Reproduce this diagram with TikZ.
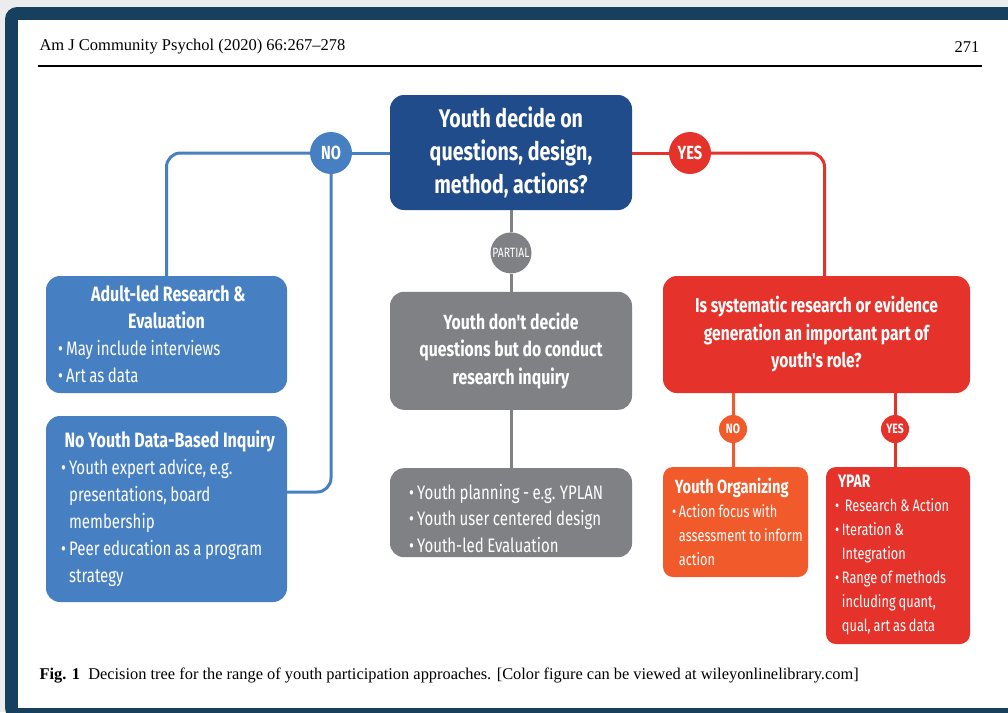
\documentclass[tikz,border=0pt]{standalone}
\usepackage{fontspec}
\setmainfont{Liberation Serif}
\newfontfamily\cond{Fira Sans}[FakeStretch=0.77]
\usetikzlibrary{positioning}

\definecolor{frameblue}{HTML}{17405F}
\definecolor{darkblue}{HTML}{214C8C}
\definecolor{midblue}{HTML}{4780C2}
\definecolor{greybox}{HTML}{808184}
\definecolor{redbox}{HTML}{E5322A}
\definecolor{orangebox}{HTML}{F15B2B}

\hyphenpenalty=10000
\exhyphenpenalty=10000
% size, leading, and narrower word spaces for the condensed face
\newcommand{\fsz}[2]{\fontsize{#1}{#2}\selectfont\spaceskip=.18em plus .05em\xspaceskip=.22em\relax}
\newcommand{\bul}[1]{\par\noindent\setbox0\hbox{\textbullet\,}\hangindent=\wd0 \hangafter=1 \box0 #1}
% left margin inside a box; lines may run past the right edge instead of wrapping
\newcommand{\marg}[1]{\leftskip=#1\rightskip=-30pt plus 1fil\spaceskip=.18em plus .05em\xspaceskip=.22em\relax}

\begin{document}
\begin{tikzpicture}[x=1pt,y=-1pt,
    box/.style={rounded corners=14pt,text=white,inner sep=0pt,font=\cond},
    dec/.style={circle,text=white,inner sep=0pt,font=\cond\bfseries},
    link/.style={line width=3pt}]

                \useasboundingbox (0,0) rectangle (1008,712);

                % page frame
                \fill[gray!15] (0,0) rectangle (1008,712);
                \fill[frameblue,rounded corners=12pt] (5,7) -- (1020,7) -- (1020,720) -- (5,720) -- cycle;
                \fill[white] (18,20) rectangle (1008,708);

                % running head and caption
                \node[anchor=west,font=\fontsize{16.5}{18}\selectfont] (head) at (36,47) {Am J Community Psychol (2020) 66:267--278};
                \node[anchor=east,font=\fontsize{16.5}{18}\selectfont] (page) at (983,47) {271};
                \draw[line width=2pt] (38,66) -- (982,66);
                \node[anchor=west,font=\fontsize{16.4}{18}\selectfont] (cap) at (36,676)
                    {\textbf{Fig. 1}\enspace Decision tree for the range of youth participation approaches. [Color figure can be viewed at wileyonlinelibrary.com]};

                % boxes
                \node[box,fill=darkblue,minimum width=242pt,minimum height=115pt,align=center,
                      font=\cond\bfseries\fsz{25.5}{33}] (q) at (511,152.5)
                    {Youth decide on\\questions, design,\\method, actions?};

                \node[box,fill=midblue,minimum height=117pt,text width=241pt,align=left,
                      font=\cond\fsz{19.5}{27}] (adult) at (166.5,334.5)
                    {\marg{12pt}
                     {\centering\bfseries\fsz{20.8}{27}Adult-led Research \&\\Evaluation\par}
                     \bul{May include interviews}
                     \bul{Art as data}\par};

                \node[box,fill=midblue,minimum height=186pt,text width=241pt,align=left,
                      font=\cond\fsz{19.5}{27}] (noyouth) at (166.5,509)
                    {\marg{15pt}
                     {\bfseries\fsz{20.8}{27}No Youth Data-Based Inquiry}
                     \bul{Youth expert advice, e.g.\newline presentations, board\newline membership}
                     \bul{Peer education as a program\newline strategy}\par};

                \node[dec,fill=greybox,minimum size=41pt,font=\cond\fsz{13.5}{14}] (partial) [below=22pt of q] {PARTIAL};

                \node[box,fill=greybox,minimum width=242pt,minimum height=118pt,align=center,
                      font=\cond\bfseries\fsz{20.5}{27.5}] (inq) [below=18pt of partial]
                    {Youth don't decide\\questions but do conduct\\research inquiry};

                \node[box,fill=greybox,minimum height=89pt,text width=242pt,align=left,
                      font=\cond\fsz{19.5}{26.5}] (ex) [below=58pt of inq]
                    {\marg{19pt}
                     \bul{Youth planning - e.g. YPLAN}
                     \bul{Youth user centered design}
                     \bul{Youth-led Evaluation}\par};

                \node[dec,fill=midblue,minimum size=42pt,font=\cond\bfseries\fsz{19}{20}] (no1) at (331,153) {NO};
                \node[dec,fill=redbox,minimum size=42pt,font=\cond\bfseries\fsz{19}{20}] (yes1) at (690,153) {YES};

                \node[box,fill=redbox,minimum width=307pt,minimum height=117pt,align=center,
                      font=\cond\bfseries\fsz{20.2}{27.5}] (sys) at (816.5,334.5)
                    {Is systematic research or evidence\\generation an important part of\\youth's role?};

                \node[dec,fill=orangebox,minimum size=28pt,font=\cond\bfseries\fsz{13.5}{14}] (no2) at (733,429) {NO};
                \node[dec,fill=redbox,minimum size=28pt,font=\cond\bfseries\fsz{13.5}{14}] (yes2) at (895,429) {YES};

                \node[box,fill=orangebox,rounded corners=10pt,minimum height=110pt,text width=145pt,align=left,
                      font=\cond\fsz{16.6}{24}] (org) at (735.5,522)
                    {\marg{9pt}
                     {\bfseries\fsz{19}{24}Youth Organizing}
                     \bul{Action focus with\newline assessment to inform\newline action}\par};

                \node[box,fill=redbox,rounded corners=10pt,minimum height=177pt,text width=144pt,align=left,
                      font=\cond\fsz{16.6}{24}] (ypar) at (898,555.5)
                    {\marg{9pt}
                     {\bfseries\fsz{18}{24}YPAR}
                     \bul{\ Research \& Action}
                     \bul{Iteration \&\newline Integration}
                     \bul{Range of methods\newline including quant,\newline qual, art as data}\par};

                % connectors
                \draw[link,midblue] (q.west |- no1) -- (no1.east);
                \draw[link,midblue,rounded corners=14pt] (no1.west) -| (adult.north);
                \draw[link,midblue,rounded corners=14pt] (no1.south) |- ([yshift=17pt]noyouth.east);

                \draw[link,redbox] (q.east |- yes1) -- (yes1.west);
                \draw[link,redbox,rounded corners=14pt] (yes1.east) -| ([xshift=8pt]sys.north);

                \foreach \from/\to in {q/partial, partial/inq, inq/ex}
                    {
                    \draw[link,greybox] (\from.south) -- (\to.north);
                    }

                \draw[link,orangebox] (no2 |- sys.south) -- (no2.north)
                                      (no2.south) -- (no2 |- org.north);
                \draw[link,redbox] (yes2 |- sys.south) -- (yes2.north)
                                   (yes2.south) -- (yes2 |- ypar.north);

            \end{tikzpicture}
\end{document}
